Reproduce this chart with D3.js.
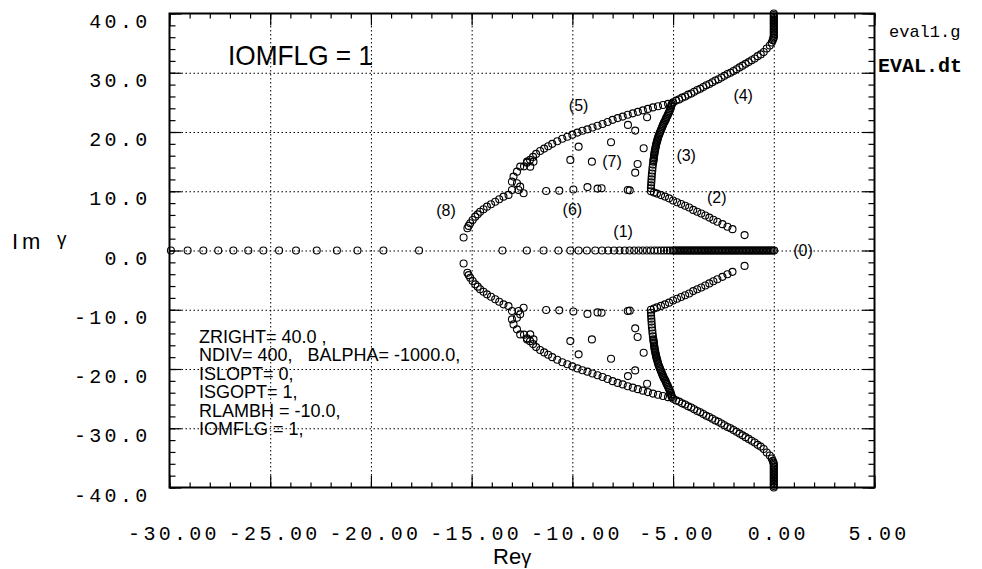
<!DOCTYPE html>
<html>
<head>
<meta charset="utf-8">
<script src="https://cdn.jsdelivr.net/npm/d3@7"></script>
<style>
  body { margin: 0; background: #fff; }
  svg { display: block; }
</style>
</head>
<body>
<div id="chart"></div>
<script>
var MONO = '"Liberation Mono", "Courier New", monospace';
var SANS = '"Liberation Sans", Arial, Helvetica, sans-serif';

// axis ticks and their printed labels
var xTicks = [-30, -25, -20, -15, -10, -5, 0, 5];
var xTickLabels = ["-30.00", "-25.00", "-20.00", "-15.00", "-10.00", "-5.00", "0.00", "5.00"];
var yTicks = [40, 30, 20, 10, 0, -10, -20, -30, -40];
var yTickLabels = ["40.0", "30.0", "20.0", "10.0", "0.0", "-10.0", "-20.0", "-30.0", "-40.0"];

// branch (0)/(1): eigenvalues on the real axis (Re only, Im = 0)
var realAxis = [
  -29.93, -29.10, -28.32, -27.58, -26.83, -26.09, -25.34, -24.56, -23.72, -22.69,
  -21.69, -20.67, -19.38, -17.61, -13.47, -12.26, -11.43, -10.69, -10.10, -9.69,
  -9.28, -8.86, -8.53, -8.22, -7.93, -7.66, -7.40, -7.16, -6.93, -6.71,
  -6.50, -6.30, -6.11, -5.93, -5.76, -5.60, -5.45, -5.30, -5.16, -5.02,
  -4.95, -4.88, -4.81, -4.74, -4.67, -4.60, -4.53, -4.46, -4.39, -4.32,
  -4.25, -4.18, -4.11, -4.04, -3.97, -3.90, -3.83, -3.76, -3.69, -3.62,
  -3.55, -3.48, -3.41, -3.34, -3.27, -3.20, -3.13, -3.06, -2.99, -2.92,
  -2.85, -2.78, -2.71, -2.64, -2.57, -2.50, -2.43, -2.36, -2.29, -2.22,
  -2.15, -2.08, -2.01, -1.94, -1.87, -1.80, -1.73, -1.66, -1.59, -1.52,
  -1.45, -1.38, -1.31, -1.24, -1.17, -1.10, -1.03, -0.96, -0.89, -0.82,
  -0.75, -0.68, -0.61, -0.54, -0.47, -0.40, -0.33, -0.26, -0.19, -0.12,
  -0.05, 0.02
];

// upper half branches as [Re, Im]; the lower half is their complex conjugate
var branch4 = [
  [0.00, 40.0], [0.00, 39.75], [0.00, 39.5], [0.00, 39.25], [0.00, 39.0], [0.00, 38.75],
  [0.00, 38.5], [0.00, 38.25], [0.00, 38.0], [0.00, 37.75], [0.00, 37.5], [0.00, 37.25],
  [0.00, 37.0], [0.00, 36.75], [0.00, 36.5], [0.00, 36.25], [0.00, 36.0], [-0.02, 35.8],
  [-0.05, 35.5], [-0.10, 35.1], [-0.20, 34.6], [-0.35, 34.1], [-0.50, 33.5], [-0.65, 33.1],
  [-0.80, 32.8], [-0.95, 32.4], [-1.10, 32.1], [-1.25, 31.8], [-1.40, 31.5], [-1.55, 31.2],
  [-1.70, 30.9], [-1.85, 30.6], [-2.00, 30.3], [-2.15, 30.0], [-2.30, 29.8], [-2.45, 29.5],
  [-2.60, 29.2], [-2.75, 28.9], [-2.90, 28.7], [-3.05, 28.4], [-3.20, 28.1], [-3.35, 27.9],
  [-3.50, 27.6], [-3.65, 27.3], [-3.80, 27.1], [-3.95, 26.8], [-4.10, 26.5], [-4.25, 26.3],
  [-4.40, 26.0], [-4.55, 25.8], [-4.70, 25.5], [-4.85, 25.3], [-5.00, 25.0]
];
var branch3 = [
  [-5.06, 24.75], [-5.08, 24.5], [-5.10, 24.25], [-5.12, 24.0], [-5.15, 23.75], [-5.18, 23.5],
  [-5.21, 23.25], [-5.25, 23.0], [-5.28, 22.75], [-5.32, 22.5], [-5.35, 22.25], [-5.38, 22.0],
  [-5.42, 21.75], [-5.46, 21.5], [-5.49, 21.25], [-5.52, 21.0], [-5.55, 20.75], [-5.58, 20.5],
  [-5.61, 20.25], [-5.64, 20.0], [-5.67, 19.75], [-5.70, 19.5], [-5.73, 19.25], [-5.75, 19.0],
  [-5.77, 18.75], [-5.79, 18.5], [-5.81, 18.25], [-5.83, 18.0], [-5.85, 17.75], [-5.86, 17.5],
  [-5.88, 17.25], [-5.89, 17.0], [-5.91, 16.75], [-5.92, 16.5], [-5.93, 16.25], [-5.94, 16.0],
  [-5.95, 15.75], [-5.96, 15.5], [-5.97, 15.25], [-5.98, 15.0], [-6.00, 14.5], [-6.02, 14.0],
  [-6.03, 13.5], [-6.05, 13.0], [-6.06, 12.5], [-6.07, 12.0], [-6.08, 11.5], [-6.09, 11.0],
  [-6.10, 10.5], [-6.10, 10.0]
];
var branch2 = [
  [-5.95, 9.8], [-5.80, 9.6], [-5.60, 9.35], [-5.40, 9.1], [-5.20, 8.8], [-5.00, 8.45],
  [-4.80, 8.15], [-4.60, 7.85], [-4.40, 7.55], [-4.20, 7.25], [-4.00, 6.85], [-3.80, 6.55],
  [-3.60, 6.25], [-3.40, 5.9], [-3.20, 5.55], [-3.00, 5.2], [-2.80, 4.85], [-2.55, 4.45],
  [-2.30, 4.0], [-2.05, 3.6], [-1.45, 2.6]
];
var branch5 = [
  [-5.25, 24.75], [-5.50, 24.55], [-5.75, 24.35], [-6.00, 24.15], [-6.25, 23.9], [-6.50, 23.65],
  [-6.75, 23.4], [-7.00, 23.15], [-7.25, 22.9], [-7.50, 22.6], [-7.75, 22.35], [-8.00, 22.05],
  [-8.25, 21.7], [-8.50, 21.35], [-8.75, 21.05], [-9.00, 20.75], [-9.25, 20.45], [-9.50, 20.2],
  [-9.75, 19.9], [-10.00, 19.55], [-10.25, 19.2], [-10.50, 18.85], [-10.75, 18.45], [-11.00, 18.0],
  [-11.20, 17.6], [-11.40, 17.2], [-11.60, 16.8], [-11.80, 16.3], [-11.95, 15.8], [-12.10, 15.3],
  [-12.25, 14.8], [-12.40, 14.2]
];
var cluster = [
  [-12.25, 15.0], [-12.59, 14.16], [-12.75, 13.31], [-12.92, 12.47], [-13.00, 11.62], [-12.75, 11.35],
  [-12.59, 10.78], [-12.67, 10.22], [-12.42, 9.66], [-13.00, 10.22], [-13.17, 9.38], [-12.09, 14.15],
  [-11.93, 15.0]
];
var branch8 = [
  [-13.42, 9.09], [-13.63, 8.65], [-13.83, 8.24], [-14.04, 7.8], [-14.24, 7.4], [-14.41, 6.97],
  [-14.58, 6.55], [-14.70, 6.1], [-14.82, 5.71], [-14.95, 5.15], [-15.07, 4.59], [-15.15, 4.15],
  [-15.21, 3.75], [-15.40, 2.2]
];
var branch6 = [
  [-11.30, 10.05], [-10.65, 10.1], [-9.95, 10.3], [-9.25, 10.7], [-8.75, 10.45], [-8.55, 10.5],
  [-7.25, 10.2], [-7.15, 10.15]
];
var branch7 = [
  [-10.10, 15.29], [-9.03, 15.0], [-9.69, 17.53], [-8.08, 18.28], [-6.46, 17.26], [-6.76, 14.61],
  [-6.88, 13.14], [-6.88, 20.24], [-7.24, 21.2], [-6.29, 22.5]
];

// branch numbers written next to the curves, at [Re, Im]
var branchNames = ["(0)", "(1)", "(2)", "(3)", "(4)", "(5)", "(6)", "(7)", "(8)"];
var branchNamePos = [[1.45, 0], [-7.48, 3.2], [-2.83, 8.95], [-4.35, 16.1], [-1.52, 26.2],
                     [-9.69, 24.5], [-10.0, 7.0], [-8.03, 15.1], [-16.27, 6.85]];

var paramLines = ["ZRIGHT= 40.0 ,", "NDIV= 400,   BALPHA= -1000.0,", "ISLOPT= 0,",
                  "ISGOPT= 1,", "RLAMBH = -10.0,", "IOMFLG = 1,"];


window.app = {
    init: function () {

        var W = 982, H = 569;

        var x = d3.scaleLinear().domain([-30, 5]).range([169.5, 874.5]);
        var y = d3.scaleLinear().domain([-40, 40]).range([487.5, 13.5]);

        var plotW = x(5) - x(-30),
            plotH = y(-40) - y(40);

        var svg = d3.select('#chart')
                    .append('svg')
                    .attr('width', W)
                    .attr('height', H);

        svg.append('rect')
            .attr('width', W)
            .attr('height', H)
            .attr('fill', '#fff');

        // dotted grid at the inner major ticks
        var grid = svg.append('g');
        grid.append('g')
            .attr('transform', 'translate(0,' + y(-40) + ')')
            .call(d3.axisBottom(x).tickValues(xTicks.slice(1, -1)).tickSize(-plotH).tickFormat(''));
        grid.append('g')
            .attr('transform', 'translate(' + x(-30) + ',0)')
            .call(d3.axisLeft(y).tickValues(yTicks.slice(1, -1)).tickSize(-plotW).tickFormat(''));
        grid.selectAll('.domain').remove();
        grid.selectAll('line')
            .attr('stroke', '#000')
            .attr('stroke-width', 1)
            .attr('stroke-dasharray', '1.5,2.5');

        // inward ticks on all four sides
        var xMinor = d3.range(-30, 5.01, 1),
            yMinor = d3.range(-40, 40.01, 2);
        var ticks = svg.append('g');
        function side(axis, tr) {
            ticks.append('g').attr('transform', tr).call(axis);
        }
        side(d3.axisBottom(x).tickValues(xMinor).tickSize(-5).tickFormat(''), 'translate(0,' + y(-40) + ')');
        side(d3.axisBottom(x).tickValues(xTicks).tickSize(-12).tickFormat(''), 'translate(0,' + y(-40) + ')');
        side(d3.axisTop(x).tickValues(xMinor).tickSize(-5).tickFormat(''), 'translate(0,' + y(40) + ')');
        side(d3.axisTop(x).tickValues(xTicks).tickSize(-12).tickFormat(''), 'translate(0,' + y(40) + ')');
        side(d3.axisLeft(y).tickValues(yMinor).tickSize(-6).tickFormat(''), 'translate(' + x(-30) + ',0)');
        side(d3.axisLeft(y).tickValues(yTicks).tickSize(-12).tickFormat(''), 'translate(' + x(-30) + ',0)');
        side(d3.axisRight(y).tickValues(yMinor).tickSize(-6).tickFormat(''), 'translate(' + x(5) + ',0)');
        side(d3.axisRight(y).tickValues(yTicks).tickSize(-12).tickFormat(''), 'translate(' + x(5) + ',0)');
        ticks.selectAll('.domain').remove();
        ticks.selectAll('line').attr('stroke', '#000').attr('stroke-width', 1.2);

        // frame
        svg.append('rect')
            .attr('x', x(-30))
            .attr('y', y(40))
            .attr('width', plotW)
            .attr('height', plotH)
            .attr('fill', 'none')
            .attr('stroke', '#000')
            .attr('stroke-width', 2);

        // tick labels
        var xAxis = svg.append('g')
            .attr('transform', 'translate(0,' + y(-40) + ')')
            .call(d3.axisBottom(x).tickValues(xTicks).tickSize(0)
                .tickFormat(function (d, i) { return xTickLabels[i]; }));
        xAxis.select('.domain').remove();
        xAxis.selectAll('text')
            .attr('y', 52)
            .attr('dy', 0)
            .attr('dx', 4)
            .attr('fill', '#000')
            .attr('font-family', MONO)
            .attr('font-size', 20)
            .attr('letter-spacing', 3.3);

        var yAxis = svg.append('g')
            .attr('transform', 'translate(' + x(-30) + ',0)')
            .call(d3.axisLeft(y).tickValues(yTicks).tickSize(0)
                .tickFormat(function (d, i) { return yTickLabels[i]; }));
        yAxis.select('.domain').remove();
        yAxis.selectAll('text')
            .attr('x', -19)
            .attr('y', 13.5)
            .attr('dy', 0)
            .attr('fill', '#000')
            .attr('font-family', MONO)
            .attr('font-size', 20)
            .attr('letter-spacing', 3.3);

        // the eigenvalues
        var upper = [].concat(branch4, branch3, branch2, branch5, cluster, branch8, branch6, branch7);
        var points = realAxis.map(function (re) { return [re, 0]; })
            .concat(upper)
            .concat(upper.map(function (p) { return [p[0], -p[1]]; }));

        svg.append('g')
            .selectAll('circle')
            .data(points)
            .enter()
            .append('circle')
                .attr('cx', function (d) { return x(d[0]); })
                .attr('cy', function (d) { return y(d[1]); })
                .attr('r', 3.5)
                .attr('fill', 'none')
                .attr('stroke', '#000')
                .attr('stroke-width', 1.1);

        // branch numbers
        svg.append('g')
            .selectAll('text')
            .data(branchNames)
            .enter()
            .append('text')
                .attr('x', function (d, i) { return x(branchNamePos[i][0]); })
                .attr('y', function (d, i) { return y(branchNamePos[i][1]); })
                .attr('dy', '.35em')
                .attr('text-anchor', 'middle')
                .attr('font-family', SANS)
                .attr('font-size', 16)
                .text(function (d) { return d; });

        // run parameters, one text block
        svg.append('text')
            .attr('font-family', SANS)
            .attr('font-size', 18)
            .style('white-space', 'pre')
            .selectAll('tspan')
            .data(paramLines)
            .enter()
            .append('tspan')
                .attr('x', 199)
                .attr('y', function (d, i) { return 342.5 + i * 18.5; })
                .text(function (d) { return d; });

        svg.append('text')
            .attr('x', 228)
            .attr('y', 65)
            .attr('font-family', SANS)
            .attr('font-size', 28)
            .attr('textLength', 145)
            .attr('lengthAdjust', 'spacingAndGlyphs')
            .text('IOMFLG = 1');

        svg.append('text')
            .attr('x', 889)
            .attr('y', 37)
            .attr('font-family', MONO)
            .attr('font-size', 17)
            .text('eval1.g');

        svg.append('text')
            .attr('x', 878)
            .attr('y', 72)
            .attr('font-family', MONO)
            .attr('font-weight', 'bold')
            .attr('font-size', 20)
            .text('EVAL.dt');

        // axis titles
        var im = svg.append('text')
            .attr('x', 12)
            .attr('y', 249)
            .attr('font-family', SANS)
            .attr('font-size', 22);
        im.append('tspan').attr('letter-spacing', 4).text('Im');
        im.append('tspan').attr('x', 57).attr('y', 245).attr('font-size', 19).text('γ');

        var re = svg.append('text')
            .attr('x', 493)
            .attr('y', 564)
            .attr('font-family', SANS)
            .attr('font-size', 22);
        re.append('tspan').text('Re');
        re.append('tspan').attr('font-size', 20).text('γ');
    }
};

window.app.init();
</script>
</body>
</html>
